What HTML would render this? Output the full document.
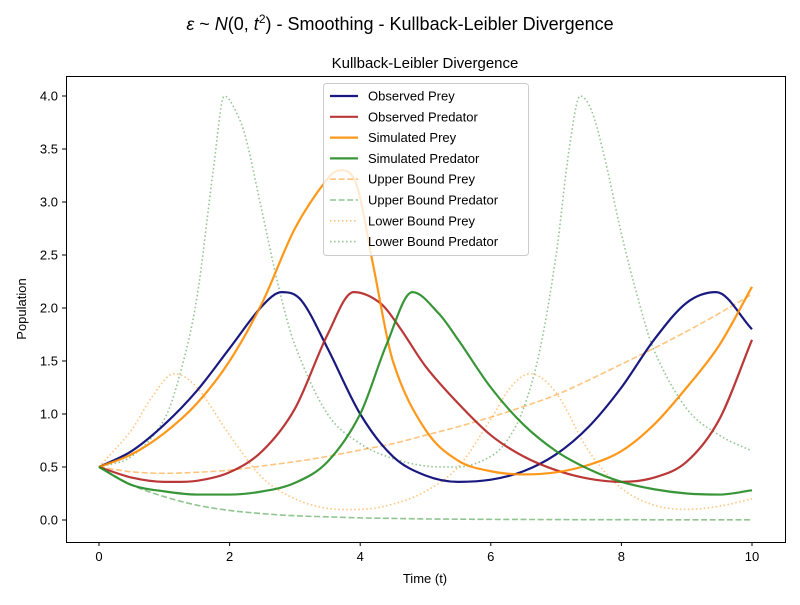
<!DOCTYPE html>
<html><head><meta charset="utf-8"><style>
body{margin:0;background:#fff;}
svg text{font-family:"Liberation Sans","DejaVu Sans",sans-serif;}
</style></head><body>
<svg id="chart" width="800" height="600" xmlns="http://www.w3.org/2000/svg">
<rect width="800" height="600" fill="#fff"/>
<text x="400" y="30" font-size="18" text-anchor="middle"><tspan font-style="italic">ε</tspan> ~ <tspan font-style="italic">N</tspan>(0, <tspan font-style="italic">t</tspan><tspan font-size="12" dy="-7">2</tspan><tspan dy="7">) - Smoothing - Kullback-Leibler Divergence</tspan></text>
<text x="425" y="68" font-size="15" text-anchor="middle">Kullback-Leibler Divergence</text>
<g id="plot"></g>
<rect x="66.5" y="76.5" width="719" height="466" fill="none" stroke="#000" stroke-width="1"/>
<g id="ticks"></g>
<text x="425" y="583" font-size="13" text-anchor="middle">Time (t)</text>
<text x="26" y="309" font-size="13" text-anchor="middle" transform="rotate(-90 26 309)">Population</text>
<g id="legend"></g>
</svg>
<script>
const xTicks=[0,2,4,6,8,10];
const yTicks=[0.0,0.5,1.0,1.5,2.0,2.5,3.0,3.5,4.0];
const tGrid=[0,0.5,1,1.5,2,2.5,3,3.5,4,4.5,5,5.5,6,6.5,7,7.5,8,8.5,9,9.5,10];
const obsPreyT=[0,0.5,1,1.5,2,2.5,2.8,3.1,3.5,4,4.5,5,5.5,6,6.5,7,7.5,8,8.5,9,9.45,10];
const obsPrey=[0.5,0.65,0.9,1.22,1.62,2.02,2.15,2.07,1.62,1.0,0.6,0.42,0.36,0.38,0.46,0.62,0.88,1.25,1.7,2.05,2.15,1.8];
const obsPredT=[0,0.5,1,1.5,2,2.5,3,3.5,3.9,4.3,4.6,5,5.5,6,6.5,7,7.5,8,8.5,9,9.5,10];
const obsPred=[0.5,0.4,0.36,0.37,0.45,0.65,1.05,1.75,2.15,2.05,1.82,1.45,1.1,0.8,0.6,0.47,0.39,0.36,0.4,0.55,0.95,1.7];
const simPreyT=[0,0.5,1,1.5,2,2.5,3,3.5,3.7,3.95,4.2,4.5,5,5.5,6,6.5,7,7.5,8,8.5,9,9.5,10];
const simPrey=[0.5,0.62,0.82,1.1,1.5,2.05,2.75,3.22,3.3,3.15,2.4,1.5,0.85,0.56,0.46,0.43,0.45,0.52,0.65,0.9,1.25,1.65,2.2];
const simPredT=[0,0.5,1,1.5,2,2.5,3,3.5,4,4.4,4.8,5.2,5.5,6,6.5,7,7.5,8,8.5,9,9.5,10];
const simPred=[0.5,0.33,0.27,0.24,0.24,0.27,0.35,0.55,1.0,1.65,2.15,1.95,1.7,1.25,0.9,0.65,0.48,0.36,0.29,0.25,0.24,0.28];
const upPrey=[0.5,0.455,0.44,0.45,0.47,0.51,0.55,0.6,0.66,0.72,0.8,0.88,0.97,1.07,1.18,1.32,1.47,1.62,1.78,1.95,2.13];
const upPred=[0.5,0.33,0.22,0.14,0.09,0.06,0.04,0.03,0.02,0.015,0.01,0.008,0.006,0.005,0.004,0.003,0.003,0.002,0.002,0.002,0.002];
const loPreyT=[0,0.5,0.8,1.15,1.5,2,2.5,3,3.5,4,4.5,5,5.5,6,6.3,6.6,7,7.5,8,8.5,9,9.5,10];
const loPrey=[0.5,0.85,1.15,1.38,1.25,0.8,0.4,0.2,0.11,0.1,0.15,0.27,0.5,0.95,1.25,1.38,1.2,0.65,0.3,0.14,0.1,0.13,0.2];
const loPredT=[0,0.5,1,1.25,1.5,1.75,1.92,2.1,2.25,2.5,2.75,3,3.5,4,4.5,5,5.5,6,6.25,6.5,6.75,7,7.2,7.37,7.55,7.75,8,8.25,8.5,9,9.5,10];
const loPred=[0.5,0.6,0.95,1.4,2.1,3.3,4.0,3.85,3.6,2.9,2.2,1.65,1.0,0.72,0.58,0.51,0.5,0.6,0.75,1.05,1.6,2.5,3.5,4.0,3.85,3.4,2.7,2.1,1.6,1.05,0.8,0.65];
const legendLabels=["Observed Prey","Observed Predator","Simulated Prey","Simulated Predator","Upper Bound Prey","Upper Bound Predator","Lower Bound Prey","Lower Bound Predator"];

const X=v=>99+v*65.3, Y=v=>520-v*106;
const NS="http://www.w3.org/2000/svg";
function mk(tag,attrs,parent){const e=document.createElementNS(NS,tag);for(const k in attrs)e.setAttribute(k,attrs[k]);parent.appendChild(e);return e;}
function pathD(ts,vs){const n=ts.length,m=[];
for(let i=0;i<n;i++){if(i==0)m.push((vs[1]-vs[0])/(ts[1]-ts[0]));else if(i==n-1)m.push((vs[n-1]-vs[n-2])/(ts[n-1]-ts[n-2]));
else{const a=(vs[i]-vs[i-1])/(ts[i]-ts[i-1]),b=(vs[i+1]-vs[i])/(ts[i+1]-ts[i]);m.push(a*b<=0?0:(vs[i+1]-vs[i-1])/(ts[i+1]-ts[i-1]));}}
let d="M"+X(ts[0])+","+Y(vs[0]);
for(let i=0;i<n-1;i++){const h=ts[i+1]-ts[i];
d+=`C${X(ts[i]+h/3)},${Y(vs[i]+m[i]*h/3)} ${X(ts[i+1]-h/3)},${Y(vs[i+1]-m[i+1]*h/3)} ${X(ts[i+1])},${Y(vs[i+1])}`;}return d;}
const series=[
{n:"observed-prey-line",t:obsPreyT,v:obsPrey,c:"#191980",w:2.2,o:1,da:""},
{n:"observed-predator-line",t:obsPredT,v:obsPred,c:"#b22222",w:2.2,o:0.9,da:""},
{n:"simulated-prey-line",t:simPreyT,v:simPrey,c:"#ff8c00",w:2.2,o:0.9,da:""},
{n:"simulated-predator-line",t:simPredT,v:simPred,c:"#228b22",w:2.2,o:0.9,da:""},
{n:"upper-bound-prey-line",t:tGrid,v:upPrey,c:"#ff8c00",w:1.6,o:0.5,da:"6,2.6"},
{n:"upper-bound-predator-line",t:tGrid,v:upPred,c:"#228b22",w:1.6,o:0.5,da:"6,2.6"},
{n:"lower-bound-prey-line",t:loPreyT,v:loPrey,c:"#ff8c00",w:1.6,o:0.5,da:"1.5,2.5"},
{n:"lower-bound-predator-line",t:loPredT,v:loPred,c:"#228b22",w:1.6,o:0.5,da:"1.5,2.5"}];
const plot=document.getElementById("plot");
const drawOrder=[4,5,6,7,0,1,2,3];
drawOrder.forEach(i=>{const s=series[i];
const el=mk("path",{d:pathD(s.t,s.v),fill:"none",stroke:s.c,"stroke-width":s.w,"stroke-opacity":s.o,"stroke-dasharray":s.da},plot);

});
const tk=document.getElementById("ticks");
xTicks.forEach(v=>{const x=X(v);
const l=mk("line",{x1:x,x2:x,y1:542,y2:546,stroke:"#000"},tk);


const t=mk("text",{x:x,y:561,"font-size":13,"text-anchor":"middle"},tk);t.textContent=v;

});
yTicks.forEach(v=>{const y=Y(v);
const l=mk("line",{x1:62,x2:66,y1:y,y2:y,stroke:"#000"},tk);


const t=mk("text",{x:58,y:y+4.5,"font-size":13,"text-anchor":"end"},tk);t.textContent=v.toFixed(1);

});
const lg=document.getElementById("legend");
const box=mk("rect",{x:323.5,y:83.5,width:205,height:172,rx:3,fill:"#fff","fill-opacity":0.8,stroke:"#ccc"},lg);


legendLabels.forEach((lab,i)=>{const s=series[i],y=96+i*20.8;
const l=mk("line",{x1:330,x2:358,y1:y,y2:y,stroke:s.c,"stroke-width":s.w,"stroke-opacity":s.o,"stroke-dasharray":s.da},lg);


const t=mk("text",{x:368,y:y+4.5,"font-size":13},lg);t.textContent=lab;

});
</script>
</body></html>
